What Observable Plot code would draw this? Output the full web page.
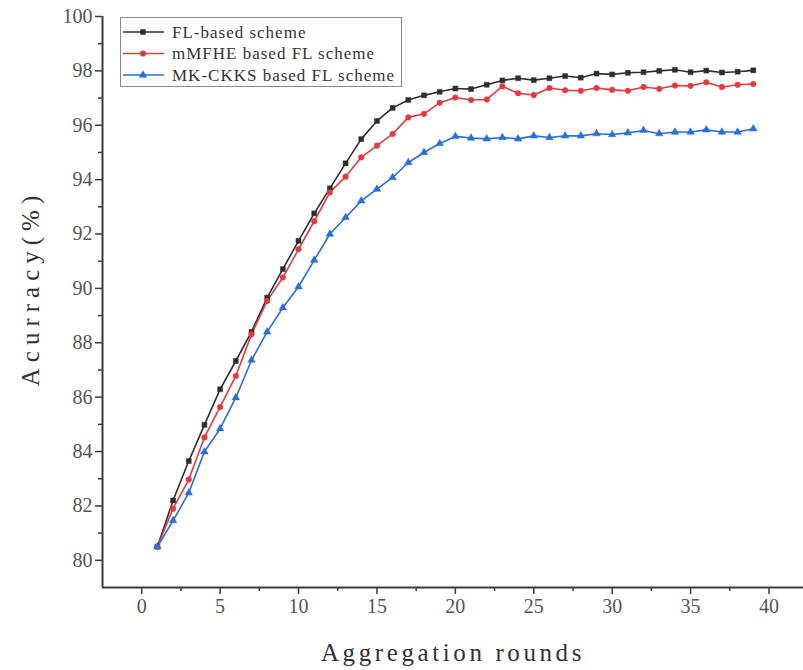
<!DOCTYPE html>
<html>
<head>
<meta charset="utf-8">
<script src="https://cdn.jsdelivr.net/npm/d3@7"></script>
<script src="https://cdn.jsdelivr.net/npm/@observablehq/plot@0.6"></script>
<style>
  html, body { margin: 0; padding: 0; background: #fff; }
  #wrap { position: relative; width: 803px; height: 670px; overflow: hidden; }
  #legend { position: absolute; left: 120px; top: 17px; width: 282px; height: 70px;
    border: 1px solid #8a8a8a; background: #fff; box-sizing: border-box; }
  #legend svg { display: block; }
</style>
</head>
<body>
<div id="wrap"></div>
<script>
const rounds = [1,2,3,4,5,6,7,8,9,10,11,12,13,14,15,16,17,18,19,20,21,22,23,24,25,26,27,28,29,30,31,32,33,34,35,36,37,38,39];
const seriesNames = ["FL-based scheme", "mMFHE based FL scheme", "MK-CKKS based FL scheme"];
const seriesColors = ["#2e2e2e", "#e23b3f", "#2d6dd6"];
const seriesSymbols = ["square", "circle", "triangle"];
const flBased = [80.5, 82.2, 83.65, 84.98, 86.29, 87.33, 88.4, 89.66, 90.71, 91.75, 92.76, 93.68, 94.6, 95.49, 96.16, 96.64, 96.93, 97.1, 97.23, 97.35, 97.33, 97.49, 97.65, 97.73, 97.66, 97.73, 97.81, 97.75, 97.9, 97.87, 97.93, 97.95, 98.0, 98.04, 97.95, 98.01, 97.94, 97.97, 98.02];
const mMFHE = [80.5, 81.9, 82.97, 84.52, 85.64, 86.78, 88.31, 89.54, 90.4, 91.44, 92.47, 93.53, 94.11, 94.82, 95.25, 95.68, 96.29, 96.42, 96.83, 97.02, 96.93, 96.95, 97.43, 97.18, 97.11, 97.37, 97.29, 97.27, 97.37, 97.3, 97.27, 97.41, 97.34, 97.46, 97.45, 97.58, 97.41, 97.49, 97.52];
const mkCKKS = [80.5, 81.46, 82.48, 83.99, 84.84, 85.98, 87.36, 88.4, 89.29, 90.06, 91.04, 92.0, 92.61, 93.22, 93.65, 94.08, 94.63, 95.0, 95.33, 95.59, 95.53, 95.5, 95.55, 95.5, 95.61, 95.55, 95.61, 95.61, 95.69, 95.66, 95.72, 95.81, 95.69, 95.75, 95.75, 95.83, 95.75, 95.75, 95.87];
const xTicks = [0, 5, 10, 15, 20, 25, 30, 35, 40];
const xMinorTicks = [2.5, 7.5, 12.5, 17.5, 22.5, 27.5, 32.5, 37.5];
const yTicks = [80, 82, 84, 86, 88, 90, 92, 94, 96, 98, 100];
const yMinorTicks = [81, 83, 85, 87, 89, 91, 93, 95, 97, 99];
const xLabel = "Aggregation rounds";
const yLabel = "Acurracy(%)";

const allSeries = [flBased, mMFHE, mkCKKS];
const data = [];
allSeries.forEach((vals, i) => vals.forEach((v, j) => data.push({round: rounds[j], acc: v, series: seriesNames[i]})));

const xDomain = [-2.5, 42.2];
const yDomain = [79, 100];
const axisColor = "#3a3a3a";
const serif = "Liberation Serif, 'DejaVu Serif', serif";

const chart = Plot.plot({
  width: 803,
  height: 670,
  marginLeft: 102,
  marginRight: 0,
  marginTop: 16,
  marginBottom: 83,
  style: {background: "#fff", overflow: "visible"},
  x: {domain: xDomain},
  y: {domain: yDomain},
  color: {domain: seriesNames, range: seriesColors},
  symbol: {domain: seriesNames, range: seriesSymbols},
  marks: [
    Plot.axisX({ticks: xMinorTicks, tickSize: 4, text: null, stroke: axisColor, strokeWidth: 1.5, label: null}),
    Plot.axisX({ticks: xTicks, tickSize: 7, tickPadding: 4, stroke: axisColor, strokeWidth: 1.5, fill: "#555",
      fontFamily: serif, fontSize: 20, label: null}),
    Plot.axisY({ticks: yMinorTicks, tickSize: 4, text: null, stroke: axisColor, strokeWidth: 1.5, label: null}),
    Plot.axisY({ticks: yTicks, tickSize: 7, tickPadding: 3, stroke: axisColor, strokeWidth: 1.5, fill: "#555",
      fontFamily: serif, fontSize: 20, label: null}),
    Plot.ruleY([yDomain[0]], {stroke: axisColor, strokeWidth: 2}),
    Plot.ruleX([xDomain[0]], {stroke: axisColor, strokeWidth: 2}),
    Plot.line(data, {x: "round", y: "acc", z: "series", stroke: "series", strokeWidth: 1.6}),
    Plot.dot(data, {x: "round", y: "acc", fill: "series", stroke: "series", strokeWidth: 0.5, symbol: "series", r: 2.8}),
    Plot.text([xLabel], {frameAnchor: "bottom", dy: 73, textAnchor: "middle", fontFamily: serif, fontSize: 25, fill: "#333"}),
    Plot.text([yLabel], {frameAnchor: "left", textAnchor: "middle", rotate: -90, dx: -72, dy: -14, fontFamily: serif, fontSize: 25, fill: "#333"})
  ]
});
chart.querySelectorAll("text").forEach(t => {
  if (t.textContent === xLabel) t.setAttribute("letter-spacing", "3.6");
  if (t.textContent === yLabel) t.setAttribute("letter-spacing", "6");
});
document.getElementById("wrap").appendChild(chart);

// Legend overlay inside the plot frame
const legend = document.createElement("div");
legend.id = "legend";
const lsvg = d3.create("svg").attr("width", 282).attr("height", 70);
const symMap = {square: d3.symbolSquare, circle: d3.symbolCircle, triangle: d3.symbolTriangle};
seriesNames.forEach((name, i) => {
  const cy = 14 + i * 21.5;
  const g = lsvg.append("g");
  g.append("line").attr("x1", 2).attr("x2", 43).attr("y1", cy).attr("y2", cy)
    .attr("stroke", seriesColors[i]).attr("stroke-width", 1.5);
  g.append("path").attr("d", d3.symbol(symMap[seriesSymbols[i]], 30)())
    .attr("transform", `translate(22,${cy})`).attr("fill", seriesColors[i]);
  g.append("text").attr("x", 51).attr("y", cy).attr("dy", "0.35em")
    .attr("font-family", serif).attr("font-size", 17).attr("letter-spacing", 1.0)
    .attr("fill", "#333").text(name);
});
legend.appendChild(lsvg.node());
document.getElementById("wrap").appendChild(legend);
</script>
</body>
</html>
